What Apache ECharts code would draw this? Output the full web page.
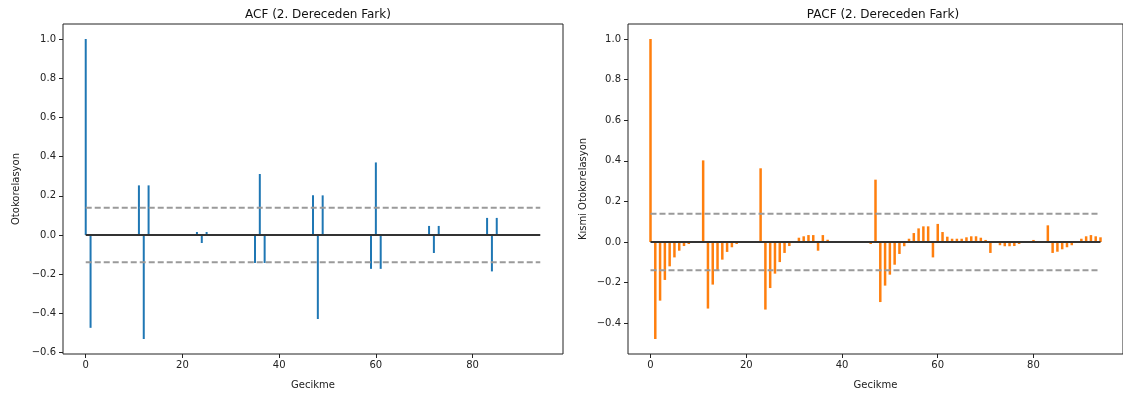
<!DOCTYPE html>
<html>
<head>
<meta charset="utf-8">
<title>ACF / PACF (2. Dereceden Fark)</title>
<script src="https://cdn.jsdelivr.net/npm/echarts@6/dist/echarts.min.js"></script>
<style>
  html, body { margin: 0; padding: 0; background: #ffffff; }
  #chart { width: 1123px; height: 397px; }
</style>
</head>
<body>
<div id="chart"></div>
<script>
// Autocorrelation values of the twice-differenced series, lags 0..94
const acfValues = [
  1.0, -0.474, 0.004, -0.003, 0.003, -0.003, 0.003, 0, 0, 0,
  0, 0.253, -0.531, 0.253, 0, 0, 0, 0, 0, 0,
  0, 0, 0, 0.015, -0.041, 0.015, 0, 0, 0, 0,
  0, 0, 0, 0, 0, -0.143, 0.311, -0.143, 0, 0,
  0, 0, 0, 0, 0, 0, 0, 0.202, -0.429, 0.202,
  0, 0, 0, 0, 0, 0, 0, 0, 0, -0.173,
  0.370, -0.173, 0, 0, 0, 0, 0, 0, 0, 0,
  0, 0.046, -0.092, 0.046, 0, 0, 0, 0, 0, 0,
  0, 0, 0, 0.087, -0.186, 0.087, 0, 0, 0, 0,
  0, 0, 0, 0, 0
];

// Partial autocorrelation values, lags 0..94
const pacfValues = [
  1.0, -0.478, -0.289, -0.187, -0.120, -0.076, -0.043, -0.020, -0.010, -0.003,
  -0.002, 0.402, -0.328, -0.210, -0.141, -0.087, -0.049, -0.026, -0.010, -0.003,
  0.002, 0.002, 0.002, 0.363, -0.333, -0.227, -0.156, -0.099, -0.054, -0.020,
  0.003, 0.021, 0.028, 0.034, 0.034, -0.043, 0.034, 0.011, 0.001, -0.002,
  -0.002, 0.001, 0.001, -0.002, -0.002, -0.004, -0.010, 0.307, -0.296, -0.215,
  -0.161, -0.112, -0.059, -0.021, 0.016, 0.044, 0.067, 0.077, 0.077, -0.076,
  0.089, 0.049, 0.026, 0.016, 0.016, 0.016, 0.023, 0.028, 0.028, 0.021,
  0.010, -0.054, -0.002, -0.016, -0.021, -0.021, -0.020, -0.010, 0.001, 0.002,
  0.010, 0.002, 0.001, 0.082, -0.054, -0.048, -0.036, -0.026, -0.016, -0.003,
  0.016, 0.028, 0.034, 0.028, 0.023
];

// 95% confidence bound (±1.96/sqrt(N))
const confBound = 0.139;

const xTicks = [0, 20, 40, 60, 80];
const acfYTicks = [-0.6, -0.4, -0.2, 0.0, 0.2, 0.4, 0.6, 0.8, 1.0];
const pacfYTicks = [-0.4, -0.2, 0.0, 0.2, 0.4, 0.6, 0.8, 1.0];

const titles = ['ACF (2. Dereceden Fark)', 'PACF (2. Dereceden Fark)'];
const yNames = ['Otokorelasyon', 'Kısmi Otokorelasyon'];
const xName = 'Gecikme';

const FONT = 'DejaVu Sans';
const lastLag = acfValues.length - 1;
const lagPad = lastLag * 0.05;

function fmtTick(v) {
  const s = Math.abs(v).toFixed(1);
  return v < -1e-9 ? '\u2212' + s : s;
}

function yRange(vals) {
  const lo = Math.min(...vals), hi = Math.max(...vals);
  const pad = (hi - lo) * 0.05;
  return [lo - pad, hi + pad];
}

const chart = echarts.init(document.getElementById('chart'), null, { renderer: 'canvas' });

const grids = [
  { left: 63, right: 560, top: 24, bottom: 43 },
  { left: 628, right: -6, top: 24, bottom: 43 }
];

function xAxisFor(i) {
  return {
    type: 'value', gridIndex: i, position: 'bottom',
    min: -lagPad, max: lastLag + lagPad,
    name: xName, nameLocation: 'middle', nameGap: 26,
    nameTextStyle: { fontFamily: FONT, fontSize: 10, color: '#222' },
    splitLine: { show: false },
    axisLine: { show: false, onZero: false },
    axisTick: { show: true, inside: false, length: 4, lineStyle: { color: '#222' }, customValues: xTicks },
    axisLabel: { fontFamily: FONT, fontSize: 10, color: '#222', margin: 6, customValues: xTicks, formatter: v => String(Math.round(v)) }
  };
}

function yAxisFor(i, vals, ticks) {
  const [lo, hi] = yRange(vals);
  return {
    type: 'value', gridIndex: i, position: 'left', min: lo, max: hi,
    name: yNames[i], nameLocation: 'middle', nameGap: i === 0 ? 42 : 40,
    nameTextStyle: { fontFamily: FONT, fontSize: 10, color: '#222' },
    splitLine: { show: false },
    axisLine: { show: false, onZero: false },
    axisTick: { show: true, inside: false, length: 4, lineStyle: { color: '#222' }, customValues: ticks },
    axisLabel: { fontFamily: FONT, fontSize: 10, color: '#222', margin: 7, customValues: ticks, formatter: fmtTick }
  };
}

function stemSeries(i, vals, color, width) {
  return {
    type: 'bar', xAxisIndex: i, yAxisIndex: i,
    data: vals.map((v, k) => [k, v]),
    barWidth: width,
    itemStyle: { color: color },
    z: 2
  };
}

function hLine(i, level, style) {
  return {
    type: 'line', xAxisIndex: i, yAxisIndex: i,
    data: [[0, level], [lastLag, level]],
    symbol: 'none', silent: true,
    lineStyle: style, z: 5
  };
}

const dashStyle = { color: '#9a9a9a', width: 2, type: [6, 3] };
const zeroStyle = { color: '#333333', width: 2 };

const option = {
  animation: false,
  backgroundColor: '#ffffff',
  title: titles.map((t, i) => ({
    text: t,
    left: i === 0 ? 313 : 878,
    top: 4,
    textAlign: 'center',
    textStyle: { fontFamily: FONT, fontSize: 12, fontWeight: 'normal', color: '#111' }
  })),
  grid: grids.map(g => Object.assign({ show: true, borderColor: '#222', borderWidth: 1, backgroundColor: 'transparent' }, g)),
  xAxis: [xAxisFor(0), xAxisFor(1)],
  yAxis: [yAxisFor(0, acfValues, acfYTicks), yAxisFor(1, pacfValues, pacfYTicks)],
  series: [
    stemSeries(0, acfValues, '#1f77b4', 2),
    hLine(0, confBound, dashStyle),
    hLine(0, -confBound, dashStyle),
    hLine(0, 0, zeroStyle),
    stemSeries(1, pacfValues, '#ff7f0e', 2.5),
    hLine(1, confBound, dashStyle),
    hLine(1, -confBound, dashStyle),
    hLine(1, 0, zeroStyle)
  ]
};

chart.setOption(option);
</script>
</body>
</html>
